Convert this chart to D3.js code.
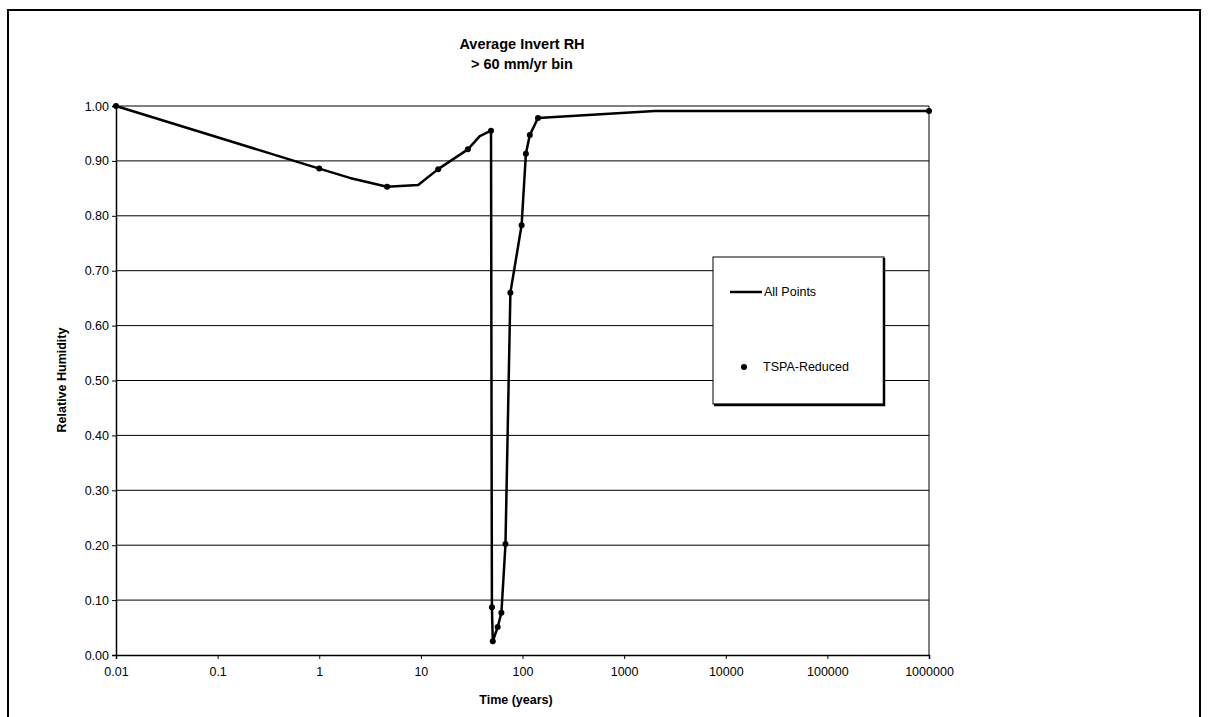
<!DOCTYPE html>
<html>
<head>
<meta charset="utf-8">
<script src="https://cdn.jsdelivr.net/npm/d3@7"></script>
<style>
  body { margin: 0; background: #fff; }
  text { font-family: "Liberation Sans", Arial, sans-serif; fill: #000; }
</style>
</head>
<body>
<script>
// DATA
let allTimes = [0.01, 1.0, 2.0, 4.65, 9.4, 14.8, 29, 38, 49, 50, 51, 57, 62, 68, 76, 98, 108, 118, 142, 2000, 1000000]
let allRH    = [1.00, 0.886, 0.869, 0.853, 0.856, 0.885, 0.921, 0.945, 0.955, 0.087, 0.025, 0.051, 0.077, 0.202, 0.66, 0.783, 0.913, 0.947, 0.978, 0.991, 0.991]

let reducedTimes = [0.01, 1.0, 4.65, 14.8, 29, 49, 50, 51, 57, 62, 68, 76, 98, 108, 118, 142, 1000000]
let reducedRH    = [1.00, 0.886, 0.853, 0.885, 0.921, 0.955, 0.087, 0.025, 0.051, 0.077, 0.202, 0.66, 0.783, 0.913, 0.947, 0.978, 0.991]

let xTicks = [0.01, 0.1, 1, 10, 100, 1000, 10000, 100000, 1000000]
let xTickLabels = ['0.01', '0.1', '1', '10', '100', '1000', '10000', '100000', '1000000']
let yTicks = [0, 0.1, 0.2, 0.3, 0.4, 0.5, 0.6, 0.7, 0.8, 0.9, 1.0]

const width = 1208
const height = 717

let svg = d3.select('body').append('svg')
    .attr('width', width)
    .attr('height', height)

// OUTER BORDER
svg.append('rect')
    .attr('x', 8).attr('y', 10)
    .attr('width', 1192).attr('height', 720)
    .attr('fill', 'none')
    .attr('stroke', '#000')
    .attr('stroke-width', 2)

let x = d3.scaleLog().domain([0.01, 1000000]).range([116, 929])
let y = d3.scaleLinear().domain([0, 1]).range([655, 106])

// GRID
svg.append('g').selectAll('line')
    .data(yTicks.slice(1))
    .join('line')
    .attr('x1', x(0.01)).attr('x2', x(1000000))
    .attr('y1', d => y(d)).attr('y2', d => y(d))
    .attr('stroke', '#000')
    .attr('stroke-width', 1)

// AXES
let yAxis = d3.axisLeft(y).tickValues(yTicks).tickFormat(d3.format('.2f')).tickSize(4).tickPadding(3)
let gy = svg.append('g').attr('transform', `translate(${x(0.01)},0)`).call(yAxis)
gy.selectAll('text').style('font-size', '12.5px').style('font-family', '"Liberation Sans", Arial, sans-serif')

let xAxis = d3.axisBottom(x).tickValues(xTicks).tickFormat((d, i) => xTickLabels[i]).tickSize(4).tickPadding(8)
let gx = svg.append('g').attr('transform', `translate(0,${y(0)})`).call(xAxis)
gx.selectAll('text').style('font-size', '12.5px').style('font-family', '"Liberation Sans", Arial, sans-serif')

svg.selectAll('.domain').attr('stroke', '#000').attr('stroke-width', 1.5)

// RIGHT EDGE OF PLOT
svg.append('line')
    .attr('x1', x(1000000)).attr('x2', x(1000000))
    .attr('y1', y(1)).attr('y2', y(0))
    .attr('stroke', '#000')

// LINE
let pts = allTimes.map((t, i) => [t, allRH[i]])
let line = d3.line().x(d => x(d[0])).y(d => y(d[1]))
svg.append('path')
    .attr('d', line(pts))
    .attr('fill', 'none')
    .attr('stroke', '#000')
    .attr('stroke-width', 2.5)
    .attr('stroke-linejoin', 'round')

// DOTS
svg.append('g').selectAll('circle')
    .data(reducedTimes.map((t, i) => [t, reducedRH[i]]))
    .join('circle')
    .attr('cx', d => x(d[0]))
    .attr('cy', d => y(d[1]))
    .attr('r', 3)
    .attr('fill', '#000')

// TITLE
svg.append('text').attr('x', 522).attr('y', 49).attr('text-anchor', 'middle')
    .style('font-size', '14.5px').style('font-weight', 'bold').text('Average Invert RH')
svg.append('text').attr('x', 522).attr('y', 69).attr('text-anchor', 'middle')
    .style('font-size', '14.5px').style('font-weight', 'bold').text('> 60 mm/yr bin')

// AXIS TITLES
svg.append('text').attr('transform', 'translate(66,380) rotate(-90)').attr('text-anchor', 'middle')
    .style('font-size', '12.5px').style('font-weight', 'bold').text('Relative Humidity')
svg.append('text').attr('x', 516).attr('y', 704).attr('text-anchor', 'middle')
    .style('font-size', '12.5px').style('font-weight', 'bold').text('Time (years)')

// LEGEND
let lg = svg.append('g')
lg.append('rect').attr('x', 713).attr('y', 257).attr('width', 171).attr('height', 147)
    .attr('fill', '#fff').attr('stroke', '#000').attr('stroke-width', 1)
lg.append('path').attr('d', 'M 884 258 L 884 405 L 714 405')
    .attr('fill', 'none').attr('stroke', '#000').attr('stroke-width', 2.5)
lg.append('line').attr('x1', 730).attr('x2', 762).attr('y1', 292).attr('y2', 292)
    .attr('stroke', '#000').attr('stroke-width', 2.5)
lg.append('text').attr('x', 764).attr('y', 296).style('font-size', '12.5px').text('All Points')
lg.append('circle').attr('cx', 744).attr('cy', 367).attr('r', 3).attr('fill', '#000')
lg.append('text').attr('x', 763).attr('y', 371).style('font-size', '12.5px').text('TSPA-Reduced')
</script>
</body>
</html>
